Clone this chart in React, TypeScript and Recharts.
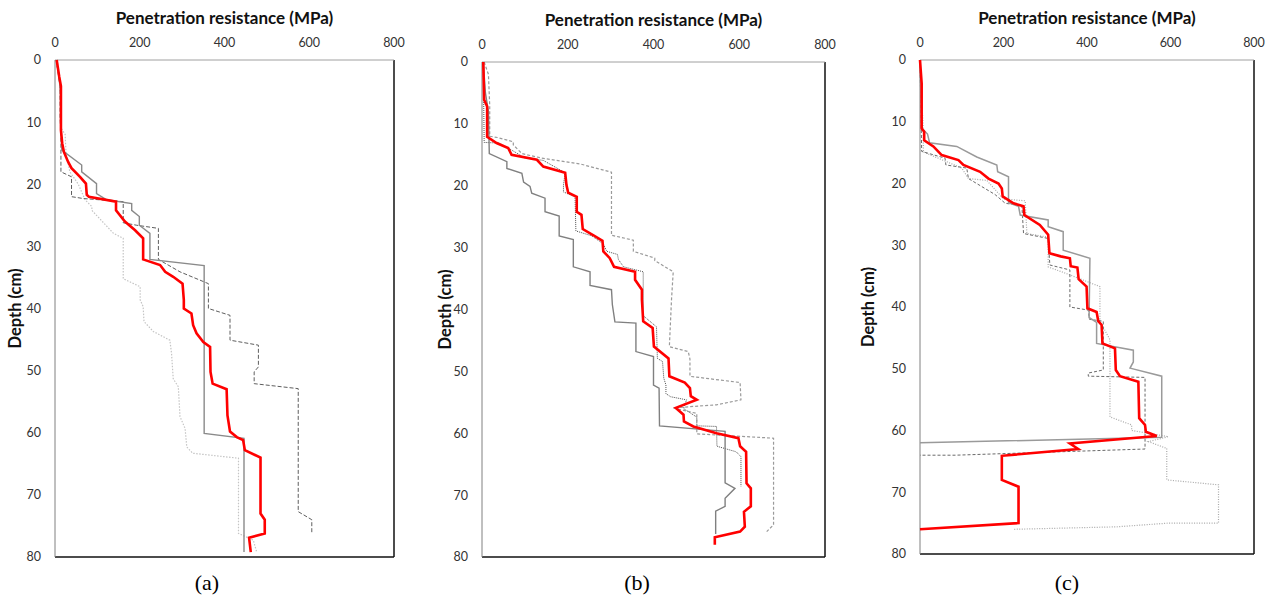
import React from "react";
import { ScatterChart, Scatter, XAxis, YAxis, ReferenceLine } from "recharts";

// every pair is [depth (cm), penetration resistance (MPa)]
type Pair = [number, number];

const xTicks = [0, 200, 400, 600, 800];
const yTicks = [0, 10, 20, 30, 40, 50, 60, 70, 80];

const aSolid: Pair[] = [
	[0, 3], [2, 8], [5, 13], [11, 14], [14.5, 16], [16.9, 63], [18, 63], [19.9, 98], [21.5, 98],
	[22.5, 122], [23.1, 181], [24.2, 181], [25.2, 199], [26.6, 199], [27.9, 224], [32.1, 224],
	[33.1, 352], [60.1, 352], [60.9, 446], [79.2, 446],
];
const aDashed: Pair[] = [
	[0, 3], [4.3, 12], [9.4, 12], [12, 14], [18, 14], [18.8, 39], [22, 39], [22.3, 67], [22.8, 161],
	[26.2, 161], [26.6, 193], [27.1, 244], [32.1, 244], [34.1, 295], [36, 362], [40, 362], [41.1, 413],
	[45.1, 413], [45.9, 480], [49.4, 480], [50.2, 470], [52.1, 470], [52.9, 574], [72.7, 574],
	[74, 606], [76.2, 606],
];
const aDotted: Pair[] = [
	[0, 5], [4, 12], [11, 15], [12, 24], [15, 26], [18, 35], [20, 55], [22.5, 71], [23.6, 87],
	[24.2, 87], [25, 98], [27.9, 138], [28.7, 161], [35.2, 161], [36.5, 201], [38.6, 201], [39.7, 208],
	[42.1, 210], [43.7, 232], [45.1, 271], [47.2, 275], [51.3, 279], [52.6, 291], [57.4, 295],
	[59.3, 307], [62.3, 311], [63.3, 325], [64.1, 433], [76.2, 433], [77.3, 468], [79.2, 476],
];
const aMean: Pair[] = [
	[0, 4], [2.7, 10], [4.2, 14], [11.3, 14], [13.4, 17], [14.8, 21], [16.4, 31], [17.4, 39],
	[18.8, 59], [19.9, 73], [21.7, 75], [22, 80], [22.8, 144], [24.2, 144], [26, 165], [27.4, 189],
	[28.7, 208], [32.1, 208], [33, 248], [34.1, 260], [34.9, 279], [36, 301], [38.6, 304], [40, 304],
	[40.8, 322], [42.7, 326], [44, 334], [45.4, 350], [46.2, 366], [50.2, 367], [52.1, 372], [53, 405],
	[57.2, 407], [59.8, 413], [60.7, 429], [61.2, 444], [62.8, 448], [64, 485], [73, 485], [74, 495],
	[76.2, 495], [76.9, 458], [79.2, 462],
];

const bSolid: Pair[] = [
	[0, 3], [5, 8], [8, 15], [14.8, 17], [16.1, 58], [17.2, 58], [18, 93], [19.4, 97], [20.1, 112],
	[21.2, 116], [22, 147], [24.2, 147], [24.9, 180], [28.1, 180], [28.7, 213], [33.1, 213],
	[33.9, 252], [36.1, 252], [36.8, 302], [39.2, 304], [42, 310], [42.2, 359], [46.8, 359],
	[47.6, 400], [52.2, 400], [52.7, 413], [58.8, 414], [59.7, 567], [68, 567], [68.9, 590],
	[70.5, 567], [71.8, 567], [72.6, 545], [76.3, 545],
];
const bDashed: Pair[] = [
	[0, 5], [2, 15], [7, 18], [12, 18], [12.2, 36], [12.9, 73], [13.4, 73], [14.8, 93], [15.5, 137],
	[16.5, 230], [17.8, 302], [28, 302], [28.8, 353], [30.6, 353], [31.7, 403], [32.1, 403],
	[33.9, 446], [38.4, 442], [46, 437], [46.8, 481], [48, 485], [50.8, 485], [51.8, 602], [54.6, 604],
	[55.4, 547], [55.9, 446], [56.8, 501], [60.1, 501], [60.8, 680], [74.8, 680], [75.9, 664],
];
const bDotted: Pair[] = [
	[0, 3], [13, 5], [13.1, 40], [13.9, 61], [15.5, 100], [15.9, 143], [17.9, 194], [19.9, 190],
	[21, 190], [21.8, 217], [27.3, 219], [28.1, 256], [29.4, 283], [30.6, 291], [31.1, 316],
	[31.9, 318], [33.1, 330], [33.9, 376], [41, 376], [42.8, 407], [47.9, 409], [48.4, 421],
	[51.1, 424], [52.2, 429], [53.6, 429], [54.1, 440], [54.6, 477], [56, 470], [57.4, 501],
	[58.8, 501], [58.9, 547], [62.1, 548], [63, 593], [63.8, 604], [68.6, 604],
];
const bMean: Pair[] = [
	[0, 3], [6.1, 5], [7.2, 12], [12.1, 12], [13.1, 34], [13.9, 61], [15, 69], [15.8, 128], [16.9, 143],
	[17.9, 194], [19.9, 197], [21.1, 201], [21.8, 221], [24.2, 221], [24.7, 232], [27, 235], [28, 260],
	[28.9, 281], [30.6, 283], [31.7, 298], [33.1, 308], [33.9, 357], [35.2, 357], [36.8, 373],
	[38.4, 373], [41.9, 376], [43, 398], [46, 401], [47.9, 435], [50.8, 437], [51.8, 473], [52.7, 485],
	[54, 487], [54.6, 501], [55.9, 452], [57, 470], [58.1, 471], [58.9, 493], [60, 547], [60.8, 598],
	[62.1, 602], [63, 616], [68.1, 617], [68.9, 627], [71.8, 627], [72.7, 611], [75.1, 613],
	[75.9, 602], [76.8, 543], [78, 543],
];

const cSolid: Pair[] = [
	[0, 0], [11, 4], [12, 18], [13.4, 23], [14, 88], [15.7, 136], [17, 184], [18.1, 186], [18.9, 212],
	[23.1, 212], [23.7, 236], [25.1, 240], [25.9, 307], [27, 307], [27.8, 343], [30.8, 343],
	[32.1, 407], [41.7, 405], [42.5, 423], [45.9, 423], [47, 511], [48.9, 511], [49.9, 503],
	[51.2, 579], [61.1, 579], [62, 0],
];
const cDashed: Pair[] = [
	[0, 0], [14.8, 4], [15.9, 60], [17, 62], [17.5, 112], [19.2, 116], [21.8, 180], [23.2, 204],
	[23.6, 244], [28.1, 248], [28.9, 307], [33.2, 311], [34, 359], [40, 359], [40.5, 403], [42, 406],
	[42.3, 439], [50.2, 439], [50.7, 403], [51.2, 403], [51.4, 539], [63, 539], [64, 84], [64, 0],
];
const cDotted: Pair[] = [
	[0, 0], [11.6, 8], [14.9, 8], [16.7, 72], [17.5, 100], [19.2, 116], [19.5, 160], [22.5, 200],
	[22.8, 252], [28.1, 256], [28.7, 307], [33.5, 307], [34.8, 359], [36.7, 431], [42.3, 431],
	[45.3, 455], [57.8, 455], [59.1, 507], [60, 507], [61, 595], [61.8, 547], [62.9, 591], [68, 591],
	[68.8, 715], [75, 715], [75, 595], [75.6, 471], [76, 224],
];
const cMean: Pair[] = [
	[0, 0], [3.8, 4], [11.1, 4], [11.6, 10], [13, 10], [14, 32], [15.4, 52], [16.2, 92], [17, 104],
	[18.1, 144], [19.2, 164], [20, 188], [20.8, 196], [22.1, 198], [23.2, 224], [23.7, 248],
	[25.1, 250], [26.7, 287], [28.3, 307], [31.3, 310], [31.8, 337], [32.1, 359], [33.4, 361],
	[33.6, 377], [35.5, 380], [36.7, 399], [40.2, 401], [40.8, 423], [42.3, 427], [42.9, 435],
	[45.9, 437], [46.7, 467], [50.2, 469], [51.2, 479], [52.1, 523], [58, 525], [59.1, 539],
	[60.2, 541], [60.9, 567], [62.1, 359], [63, 379], [64.1, 196], [68, 196], [69.1, 236], [75, 236],
	[76, 0],
];

type LineStyle = { stroke: string; width: number; dash?: string };

interface PanelProps {
	left: number;
	width: number;
	plot: { l: number; r: number; t: number; b: number };
	title: string;
	labelOffset: number;
	series: { data: Pair[]; style: LineStyle }[];
}

const tickStyle = { fontFamily: "Lato", fontSize: 12.5, fill: "#333" };
const titleFont = { fontFamily: "Lato", fontWeight: 700, fontSize: 17, fill: "#111" };
const depthFont = { fontFamily: "Lato", fontWeight: 700, fontSize: 16.5, fill: "#111" };
const noDot = () => <g />;

const Panel = ({ left, width, plot, title, labelOffset, series }: PanelProps) => {
	const yAxisW = 40;
	const xAxisH = 30;
	const margin = {
		top: plot.t - xAxisH,
		bottom: 603 - plot.b,
		left: plot.l - left - yAxisW,
		right: left + width - plot.r,
	};
	return (
		<div style={{ position: "absolute", left, top: 0 }}>
			<ScatterChart width={width} height={603} margin={margin}>
				<XAxis
					type="number"
					dataKey="v"
					orientation="top"
					domain={[0, 800]}
					ticks={xTicks}
					height={xAxisH}
					tickSize={0}
					tickMargin={13}
					tick={tickStyle}
					axisLine={{ stroke: "#a0a0a0" }}
					label={{ value: title, position: "top", offset: 6, style: titleFont }}
				/>
				<YAxis
					type="number"
					dataKey="d"
					reversed
					domain={[0, 80]}
					ticks={yTicks}
					width={yAxisW}
					tickSize={0}
					tickMargin={14}
					tick={tickStyle}
					axisLine={{ stroke: "#808080" }}
					label={{
						value: "Depth (cm)",
						angle: -90,
						position: "insideLeft",
						offset: labelOffset,
						style: { ...depthFont, textAnchor: "middle" },
					}}
				/>
				<ReferenceLine x={800} stroke="#111" strokeWidth={1.5} />
				<ReferenceLine y={80} stroke="#111" strokeWidth={1.5} />
				{series.map((s, i) => (
					<Scatter
						key={i}
						data={s.data.map(([d, v]) => ({ d, v }))}
						fill={s.style.stroke}
						line={{ stroke: s.style.stroke, strokeWidth: s.style.width, strokeDasharray: s.style.dash }}
						lineType="joint"
						shape={noDot}
						isAnimationActive={false}
					/>
				))}
			</ScatterChart>
		</div>
	);
};

const red: LineStyle = { stroke: "#ff0000", width: 2.6 };

const Caption = ({ x, text }: { x: number; text: string }) => (
	<div
		style={{
			position: "absolute",
			left: x - 30,
			width: 60,
			top: 570,
			textAlign: "center",
			fontFamily: "Liberation Serif",
			fontSize: 22,
			color: "#000",
		}}
	>
		{text}
	</div>
);

export default function App() {
	return (
		<div style={{ position: "absolute", left: 0, top: 0, width: 1272, height: 603, background: "#fff" }}>
			<Panel
				left={0}
				width={420}
				plot={{ l: 55, r: 394, t: 60, b: 557 }}
				title="Penetration resistance (MPa)"
				labelOffset={0}
				series={[
					{ data: aDotted, style: { stroke: "#c4c4c4", width: 1.2, dash: "1.5 1.5" } },
					{ data: aDashed, style: { stroke: "#5e5e5e", width: 1, dash: "4 2" } },
					{ data: aSolid, style: { stroke: "#8a8a8a", width: 1.4 } },
					{ data: aMean, style: red },
				]}
			/>
			<Panel
				left={425}
				width={420}
				plot={{ l: 482, r: 825, t: 62, b: 557 }}
				title="Penetration resistance  (MPa)"
				labelOffset={3}
				series={[
					{ data: bDotted, style: { stroke: "#505050", width: 1, dash: "1 1" } },
					{ data: bDashed, style: { stroke: "#9a9a9a", width: 1.2, dash: "3 2" } },
					{ data: bSolid, style: { stroke: "#808080", width: 1.4 } },
					{ data: bMean, style: red },
				]}
			/>
			<Panel
				left={850}
				width={422}
				plot={{ l: 920, r: 1254, t: 60, b: 554 }}
				title="Penetration resistance (MPa)"
				labelOffset={-12}
				series={[
					{ data: cDotted, style: { stroke: "#a8a8a8", width: 1.2, dash: "1 1.5" } },
					{ data: cDashed, style: { stroke: "#6a6a6a", width: 1, dash: "3 2" } },
					{ data: cSolid, style: { stroke: "#9a9a9a", width: 1.5 } },
					{ data: cMean, style: red },
				]}
			/>
			<Caption x={207} text="(a)" />
			<Caption x={637} text="(b)" />
			<Caption x={1067} text="(c)" />
		</div>
	);
}
